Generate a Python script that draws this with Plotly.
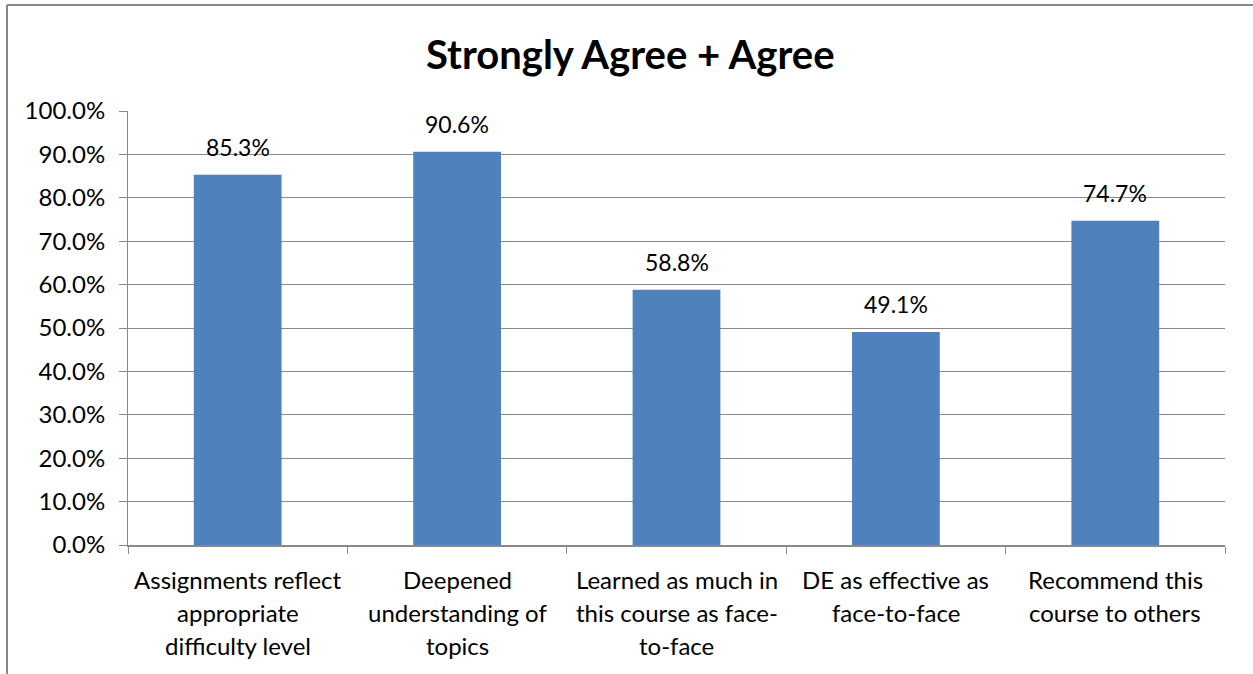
import plotly.graph_objects as go

categories = [
    ["Assignments reflect", "appropriate", "difficulty level"],
    ["Deepened", "understanding of", "topics"],
    ["Learned as much in", "this course as face-", "to-face"],
    ["DE as effective as", "face-to-face"],
    ["Recommend this", "course to others"],
]
values = [85.3, 90.6, 58.8, 49.1, 74.7]
y_ticks = [0, 10, 20, 30, 40, 50, 60, 70, 80, 90, 100]

FONT = "Lato, Open Sans, sans-serif"
GRID = "#898989"
BAR = "#4f81bd"

x = list(range(len(values)))

fig = go.Figure()
fig.add_trace(go.Bar(
    x=x, y=values,
    width=0.4,
    marker_color=BAR,
    marker_line_width=0,
    hoverinfo="skip",
))

# data labels above bars
for i, v in enumerate(values):
    fig.add_annotation(
        x=i, y=v, xref="x", yref="y",
        text=f"{v:.1f}%", showarrow=False,
        yanchor="middle", yshift=28,
        font=dict(family=FONT, size=23, color="#000000"),
    )

# category labels, one annotation per line
for i, lines in enumerate(categories):
    for j, line in enumerate(lines):
        fig.add_annotation(
            x=i, y=0, xref="x", yref="paper",
            text=line, showarrow=False,
            yanchor="middle", yshift=-34 - 33 * j,
            font=dict(family=FONT, size=24, color="#000000"),
        )

# chart frame (top and left edges)
fig.add_shape(type="line", xref="paper", yref="paper",
              x0=-121 / 1097, x1=1.0 + 28 / 1097, y0=1 + 106 / 434, y1=1 + 106 / 434,
              line=dict(color=GRID, width=2))
fig.add_shape(type="line", xref="paper", yref="paper",
              x0=-121 / 1097, x1=-121 / 1097, y0=-129 / 434, y1=1 + 106 / 434,
              line=dict(color=GRID, width=2))

fig.update_layout(
    width=1253, height=674,
    margin=dict(l=128, r=28, t=111, b=129),
    paper_bgcolor="white", plot_bgcolor="white",
    showlegend=False,
    title=dict(text="<b>Strongly Agree + Agree</b>", x=0.503, xanchor="center",
               y=0.918, yanchor="middle",
               font=dict(family=FONT, size=40, color="#000000")),
    xaxis=dict(range=[-0.5, len(values) - 0.5], showticklabels=False,
               tickvals=[i - 0.5 for i in range(len(values) + 1)],
               ticks="outside", ticklen=7, tickcolor=GRID,
               showline=True, linecolor=GRID, linewidth=2,
               showgrid=False, zeroline=False),
    yaxis=dict(range=[0, 100], tickvals=y_ticks,
               ticktext=[f"{t:.1f}%" for t in y_ticks],
               ticks="outside", ticklen=8, tickcolor=GRID,
               showline=True, linecolor=GRID, linewidth=1,
               showgrid=True, gridcolor=GRID, gridwidth=1,
               zeroline=False, ticklabelstandoff=9,
               tickfont=dict(family=FONT, size=24, color="#000000")),
    font=dict(family=FONT),
)

fig.write_html("out.html", config={"displayModeBar": False},
               post_script="document.body.style.margin='0';")
